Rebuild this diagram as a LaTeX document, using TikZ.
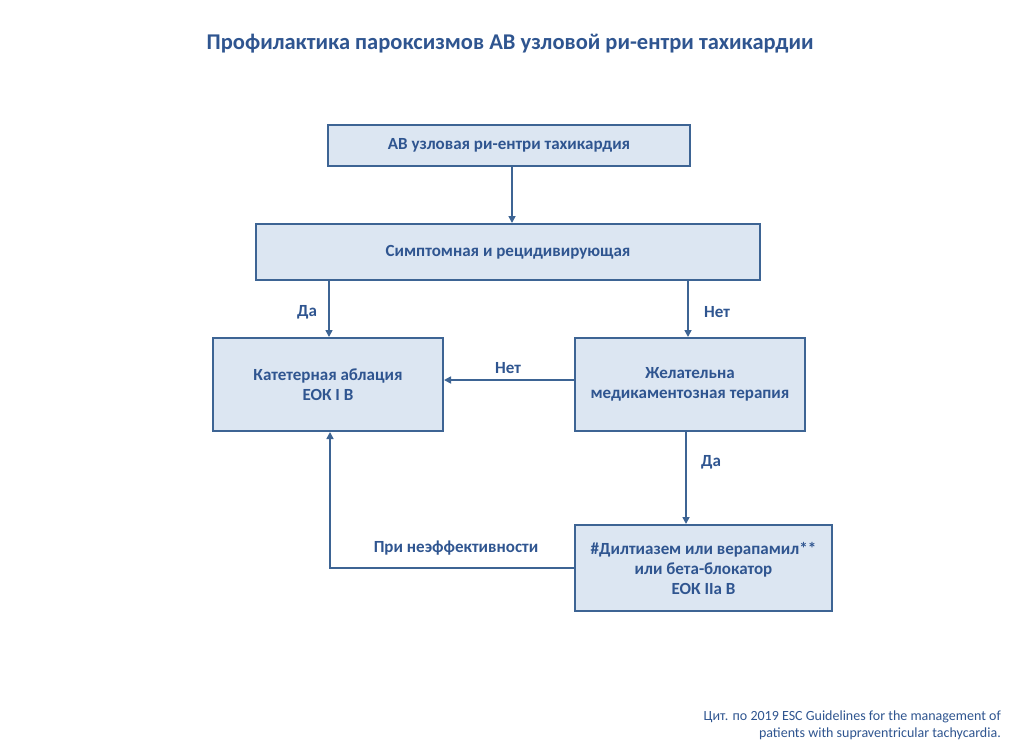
\documentclass[tikz,border=0pt]{standalone}
\usepackage{fontspec}
\setmainfont{Carlito}
\usetikzlibrary{arrows.meta}
\definecolor{txt}{HTML}{2F5590}
\definecolor{bfill}{HTML}{DCE6F2}
\definecolor{bdraw}{HTML}{3D6494}
\definecolor{lnk}{HTML}{3D6494}
\tikzset{
  x=1pt,y=-1pt,
  box/.style={draw=bdraw,fill=bfill,line width=2pt,inner sep=0pt,text=txt,font=\bfseries\fontsize{17}{20}\selectfont,align=center},
  conn/.style={draw=lnk,line width=1.6pt,-{Triangle[length=7pt,width=7pt]}},
  lbl/.style={text=txt,font=\bfseries\fontsize{17}{20}\selectfont,inner sep=0pt},
}
\begin{document}
\begin{tikzpicture}
\useasboundingbox[fill=white] (0,0) rectangle (1009,753);
\node[text=txt,font=\bfseries\fontsize{22.5}{27}\selectfont] (title) at (510,44) {Профилактика пароксизмов АВ узловой ри-ентри тахикардии};
\node[box,minimum width=362pt,minimum height=41pt] (b1) at (509,145.5) {АВ узловая ри-ентри тахикардия};
\node[box,minimum width=504pt,minimum height=56pt] (b2) at (508,252) {Симптомная и рецидивирующая};
\node[box,minimum width=230pt,minimum height=93pt] (b3) at (328,384.5) {Катетерная аблация\\ЕОК I B};
\node[box,minimum width=230pt,minimum height=93pt] (b4) at (690,384.5) {Желательна\\медикаментозная терапия};
\node[box,minimum width=257pt,minimum height=86pt] (b5) at (703.5,568) {\#Дилтиазем или верапамил**\\или бета-блокатор\\ЕОК IIa B};
\draw[conn] (b1.south -| 512,0) -- (b2.north -| 512,0);
\draw[conn] (b2.south -| 329,0) -- (b3.north -| 329,0);
\node[lbl] (l1) at (307,312) {Да};
\draw[conn] (b2.south -| 688,0) -- (b4.north -| 688,0);
\node[lbl] (l2) at (717,312) {Нет};
\draw[conn] (b4.west |- 0,380) -- (b3.east |- 0,380);
\node[lbl] (l3) at (508,368) {Нет};
\draw[conn] (b4.south -| 686,0) -- (b5.north -| 686,0);
\node[lbl] (l4) at (711,462) {Да};
\coordinate (c1) at (330,568);
\draw[conn] (b5.west |- c1) -- (c1) -- (b3.south -| c1);
\node[lbl] (l5) at (456,548) {При неэффективности};
\node[text=txt,font=\fontsize{14}{17}\selectfont,align=right,anchor=east,inner sep=0pt] (foot) at (1001,725.5) {Цит. по 2019 ESC Guidelines for the management of\\patients with supraventricular tachycardia.};
\end{tikzpicture}
\end{document}
